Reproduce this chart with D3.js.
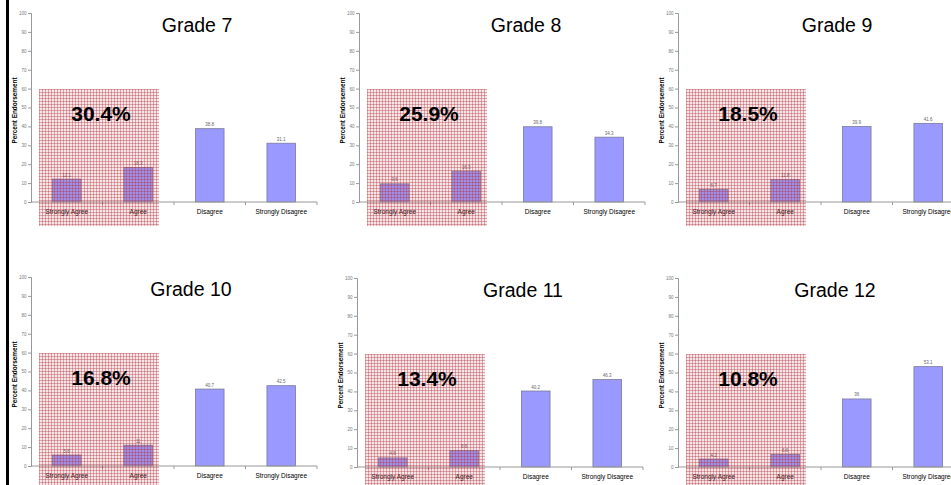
<!DOCTYPE html>
<html>
<head>
<meta charset="utf-8">
<script src="https://cdn.jsdelivr.net/npm/d3@7"></script>
<style>
  html, body { margin: 0; padding: 0; background: #fff; }
  svg { display: block; font-family: Arial, "Liberation Sans", sans-serif; }
</style>
</head>
<body>
<script>
// Survey responses by grade (percent endorsement)
const grades = ["Grade 7", "Grade 8", "Grade 9", "Grade 10", "Grade 11", "Grade 12"];
const categories = ["Strongly Agree", "Agree", "Disagree", "Strongly Disagree"];
const stronglyAgree    = [12.1, 9.6, 6.7, 5.8, 4.8, 4.2];
const agree            = [18.3, 16.3, 11.8, 11, 8.6, 6.6];
const disagree         = [38.8, 39.8, 39.9, 40.7, 40.2, 36];
const stronglyDisagree = [31.1, 34.3, 41.6, 42.5, 46.3, 53.1];
const yTicks = [0, 10, 20, 30, 40, 50, 60, 70, 80, 90, 100];
const highlightTop = 60;   // upper edge of the shaded agreement block
const yAxisTitle = "Percent Endorsement";

// Panel placement: left edge of plot and y of the zero line
const panels = [
  { x: 31,  y0: 202, titleDx: 166 },
  { x: 359, y0: 202, titleDx: 167 },
  { x: 678, y0: 202, titleDx: 159 },
  { x: 31,  y0: 466, titleDx: 160 },
  { x: 357, y0: 467, titleDx: 166 },
  { x: 678, y0: 467, titleDx: 157 }
];
const plotW = 286, plotH = 189;
const blockW = 120, blockBelow = 24, gridStep = 3;

const W = 951, H = 485;
const svg = d3.select("body").append("svg")
  .attr("width", W).attr("height", H);

// Left frame rule
svg.append("rect").attr("x", 6).attr("y", 0).attr("width", 3).attr("height", H).attr("fill", "#000");

const y = d3.scaleLinear().domain([0, 100]).range([plotH, 0]);
const x = d3.scaleBand().domain(categories).range([0, plotW])
  .paddingInner(0.6).paddingOuter(0.3);
const fmt = d3.format(".1f");

grades.forEach((grade, i) => {
  const p = panels[i];
  const values = [stronglyAgree[i], agree[i], disagree[i], stronglyDisagree[i]];
  const rows = categories.map((c, k) => ({ cat: c, v: values[k] }));
  const g = svg.append("g").attr("transform", `translate(${p.x},${p.y0 - plotH})`);

  // Y axis
  const ya = g.append("g").call(d3.axisLeft(y).tickValues(yTicks).tickSize(3).tickPadding(1.5));
  ya.select(".domain").attr("stroke", "#999");
  ya.selectAll(".tick line").attr("stroke", "#999");
  ya.selectAll(".tick text").attr("fill", "#777").style("font-size", "4.5px")
    .style("font-family", "Arial, 'Liberation Sans', sans-serif");

  // Y axis title
  g.append("text")
    .attr("transform", `translate(-14.5,${plotH / 2 + 3}) rotate(-90)`)
    .attr("text-anchor", "middle")
    .style("font-size", "6.4px").style("font-weight", "bold")
    .text(yAxisTitle);

  // Bars
  g.selectAll("rect.bar").data(rows).join("rect")
    .attr("class", "bar")
    .attr("x", d => x(d.cat))
    .attr("y", d => y(d.v))
    .attr("width", x.bandwidth())
    .attr("height", d => y(0) - y(d.v))
    .attr("fill", "#9999ff")
    .attr("stroke", "#7a7a9a").attr("stroke-width", 0.8);

  // Value labels
  g.selectAll("text.val").data(rows).join("text")
    .attr("class", "val")
    .attr("x", d => x(d.cat) + x.bandwidth() / 2)
    .attr("y", d => y(d.v) - 2.5)
    .attr("text-anchor", "middle")
    .attr("fill", "#666")
    .style("font-size", "4.5px")
    .text(d => String(d.v));

  // X axis: line, boundary ticks and category labels
  const xa = g.append("g").attr("transform", `translate(0,${plotH})`);
  xa.call(d3.axisBottom(x).tickSize(0).tickPadding(7.5));
  xa.select(".domain").remove();
  xa.append("line").attr("x1", 0).attr("x2", plotW).attr("stroke", "#999");
  xa.selectAll("line.bt").data(d3.range(1, categories.length + 1)).join("line")
    .attr("class", "bt")
    .attr("x1", k => k * x.step()).attr("x2", k => k * x.step())
    .attr("y1", 0).attr("y2", 3).attr("stroke", "#999");
  xa.selectAll(".tick text").attr("fill", "#000").style("font-size", "6.5px")
    .style("font-family", "Arial, 'Liberation Sans', sans-serif");

  // Title
  g.append("text")
    .attr("x", p.titleDx).attr("y", plotH - 170)
    .attr("text-anchor", "middle")
    .style("font-size", "19.5px")
    .text(grade);

  // Shaded agreement block: a fine plaid of thin red rules over a pink tint
  const bx = 8, by = Math.round(y(highlightTop));
  const bh = plotH - by + blockBelow;
  const block = g.append("g").attr("shape-rendering", "crispEdges");
  block.append("rect").attr("x", bx).attr("y", by).attr("width", blockW).attr("height", bh)
    .attr("fill", "rgba(200,100,110,0.16)");
  block.selectAll("rect.v").data(d3.range(0, blockW, gridStep)).join("rect")
    .attr("class", "v")
    .attr("x", d => bx + d).attr("y", by).attr("width", 1).attr("height", bh)
    .attr("fill", "rgba(175,45,55,0.36)");
  block.selectAll("rect.h").data(d3.range(0, bh, gridStep)).join("rect")
    .attr("class", "h")
    .attr("x", bx).attr("y", d => by + d).attr("width", blockW).attr("height", 1)
    .attr("fill", "rgba(175,45,55,0.36)");

  g.append("text")
    .attr("x", 70).attr("y", y(43))
    .attr("text-anchor", "middle")
    .style("font-size", "21px").style("font-weight", "bold")
    .text(fmt(stronglyAgree[i] + agree[i]) + "%");
});
</script>
</body>
</html>
